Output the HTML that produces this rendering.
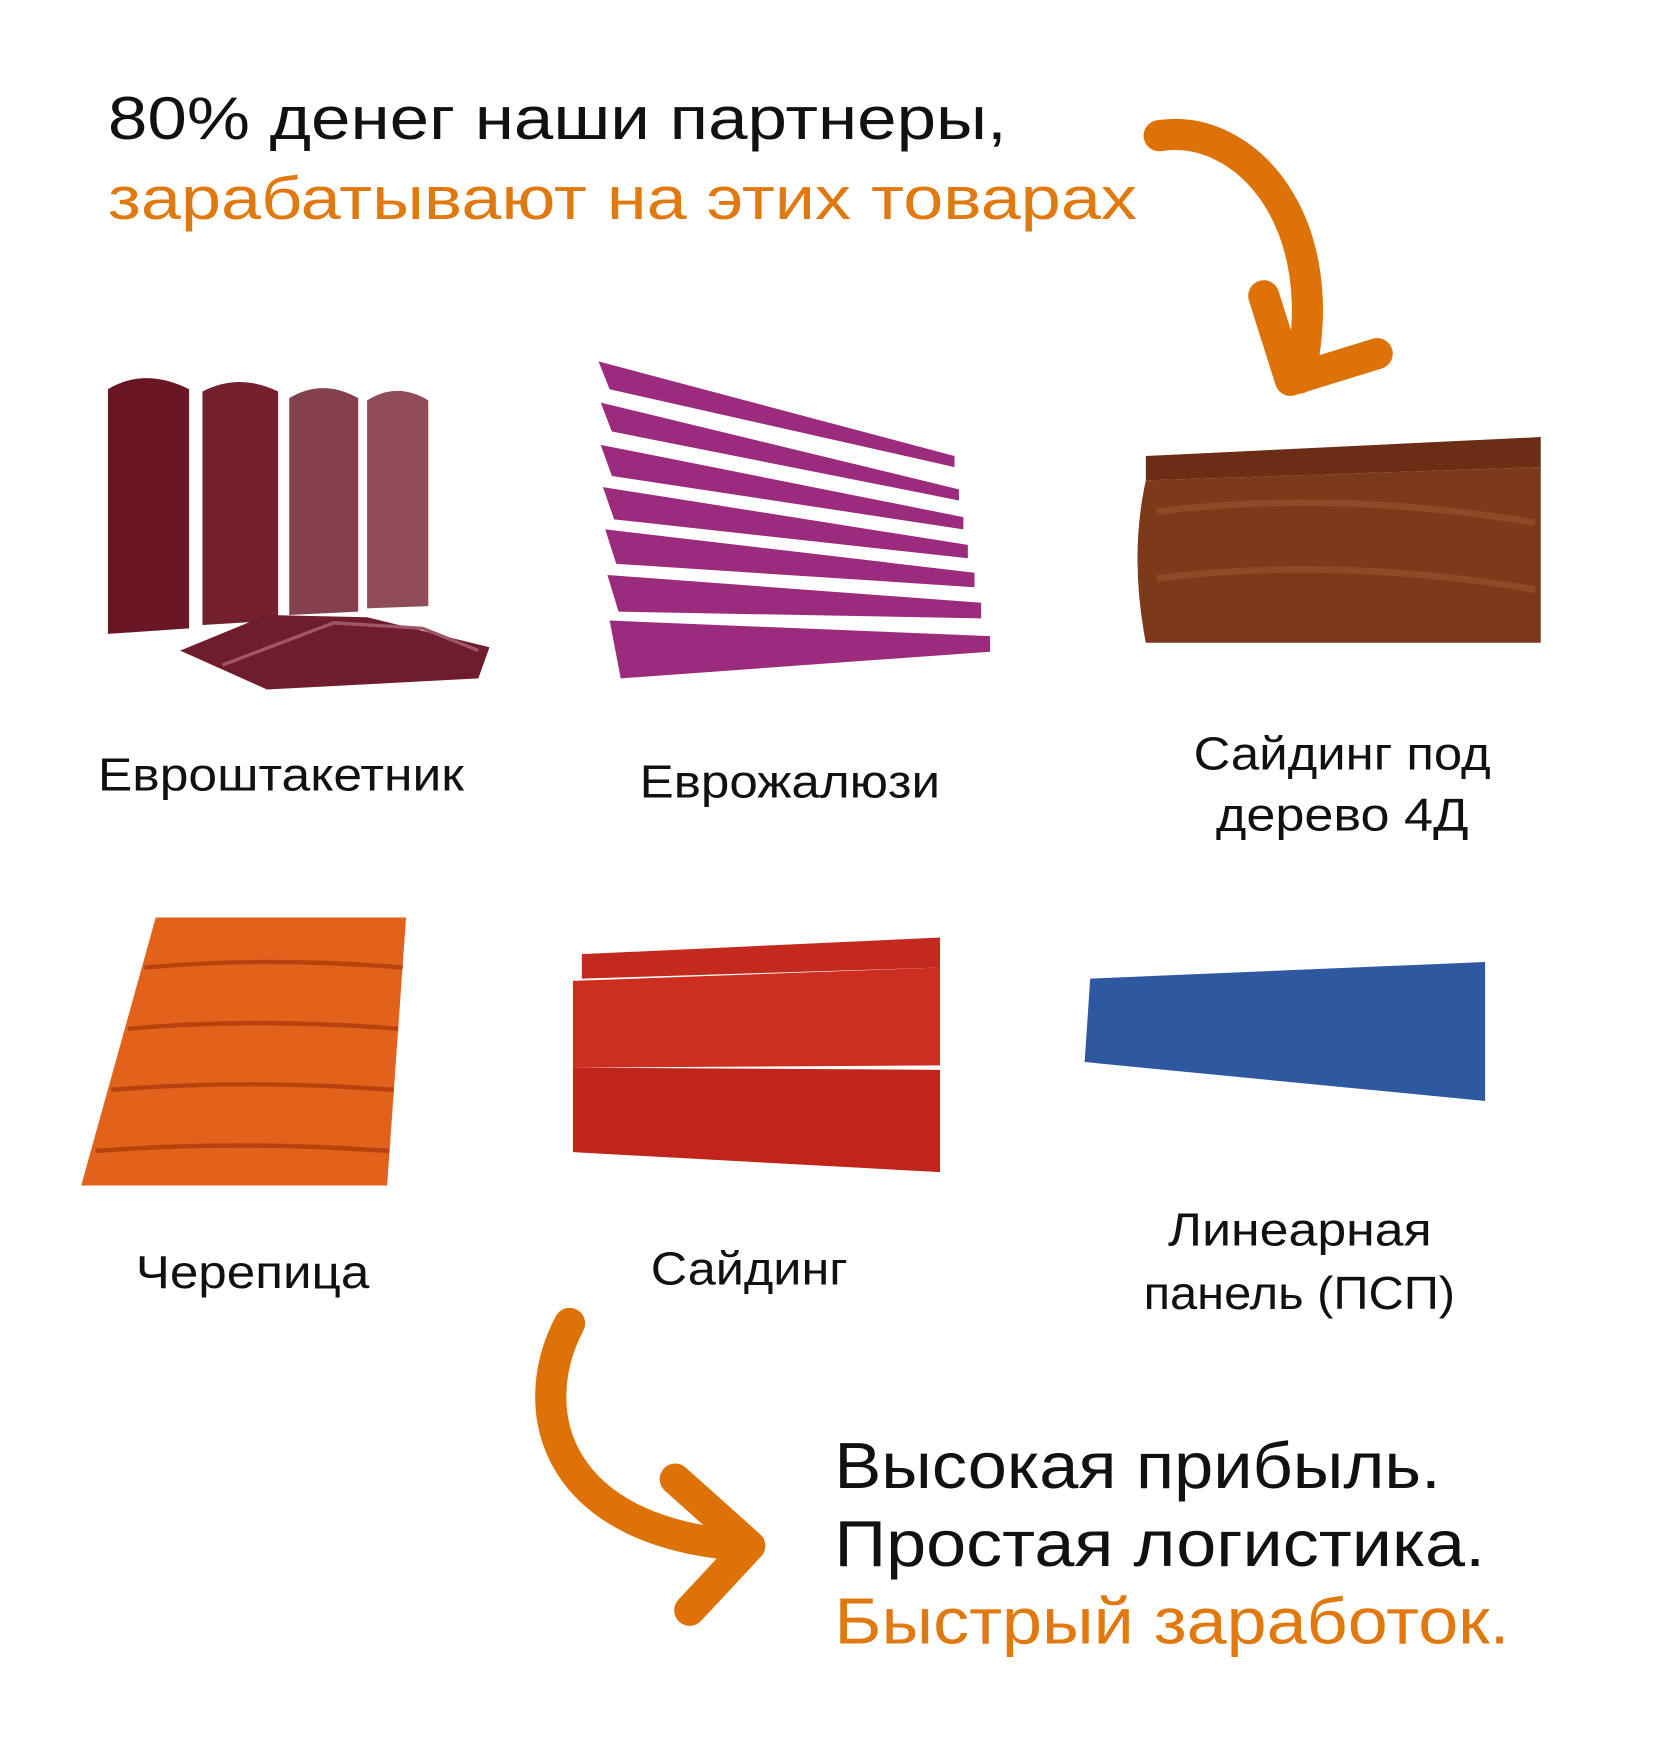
<!DOCTYPE html>
<html><head><meta charset="utf-8"><style>
html,body{margin:0;padding:0;background:#fff;}
svg{display:block;}
text{font-family:"Liberation Sans",sans-serif;}
</style></head><body>
<svg width="1662" height="1746" viewBox="0 0 1494 1570" preserveAspectRatio="none" xmlns="http://www.w3.org/2000/svg">
<rect width="1494" height="1570" fill="#fff"/>
<text x="97" y="125" font-size="54" fill="#111" textLength="808" lengthAdjust="spacingAndGlyphs">80% денег наши партнеры,</text>
<text x="97" y="197" font-size="54" fill="#e07a10" textLength="925" lengthAdjust="spacingAndGlyphs">зарабатывают на этих товарах</text>

<!-- top arrow -->
<g fill="none" stroke="#dd7208" stroke-width="28" stroke-linecap="round" stroke-linejoin="round">
<path d="M1042 122 C1120 110 1200 200 1168 340"/>
<path d="M1136 266 L1160 342 L1238 318"/>
</g>

<!-- Евроштакетник -->
<g>
<path d="M97 350 Q130 330 170 350 L170 565 L97 570 Z" fill="#6a1624"/>
<path d="M182 352 Q215 335 250 352 L250 558 L182 562 Z" fill="#74202f"/>
<path d="M260 358 Q290 340 322 358 L322 550 L260 553 Z" fill="#84404d"/>
<path d="M330 360 Q357 343 385 360 L385 545 L330 547 Z" fill="#8e4d58"/>
<path d="M162 585 L240 553 L330 555 L440 582 L430 610 L240 620 Z" fill="#6f1c2c"/>
<path d="M200 598 L300 560 L380 565 L430 585" stroke="#a0566a" stroke-width="3" fill="none"/>
</g>
<text x="88" y="711" font-size="42" fill="#111" textLength="329" lengthAdjust="spacingAndGlyphs">Евроштакетник</text>

<!-- Еврожалюзи -->
<g fill="#9a2b7d">
<path d="M538 325 L858 410 L858 420 L548 350 Z"/>
<path d="M540 362 L862 440 L862 450 L550 388 Z"/>
<path d="M540 400 L866 465 L866 476 L550 428 Z"/>
<path d="M542 438 L870 490 L870 502 L552 467 Z"/>
<path d="M544 476 L876 515 L876 528 L554 507 Z"/>
<path d="M546 517 L882 542 L882 556 L556 550 Z"/>
<path d="M548 558 L890 572 L890 586 L558 610 Z"/>
</g>
<text x="575" y="717" font-size="42" fill="#111" textLength="270" lengthAdjust="spacingAndGlyphs">Еврожалюзи</text>

<!-- wood siding -->
<path d="M1030 410 L1385 393 L1385 420 L1030 432 Z" fill="#6b2e14"/>
<path d="M1030 432 L1385 420 L1385 578 L1030 578 Q1015 500 1030 432 Z" fill="#7c3a1a"/>
<path d="M1040 460 Q1200 440 1380 470 M1040 520 Q1200 500 1380 530" stroke="#9a5530" stroke-width="6" fill="none" opacity="0.6"/>
<text x="1073" y="692" font-size="42" fill="#111" textLength="267" lengthAdjust="spacingAndGlyphs">Сайдинг под</text>
<text x="1093" y="747" font-size="42" fill="#111" textLength="227" lengthAdjust="spacingAndGlyphs">дерево 4Д</text>

<!-- Черепица -->
<path d="M140 825 L365 825 L348 1066 L73 1066 Z" fill="#e2621c"/>
<g stroke="#b8420e" stroke-width="4" fill="none">
<path d="M130 870 Q240 860 362 870"/><path d="M115 925 Q230 915 358 925"/>
<path d="M100 980 Q220 970 354 980"/><path d="M86 1035 Q210 1025 350 1035"/>
</g>
<text x="122" y="1158" font-size="42" fill="#111" textLength="210" lengthAdjust="spacingAndGlyphs">Черепица</text>

<!-- Сайдинг -->
<path d="M523 858 L845 843 L845 870 L523 880 Z" fill="#c22a1e"/>
<path d="M515 882 L845 870 L845 958 L515 960 Z" fill="#cc2e20"/>
<path d="M515 960 L845 962 L845 1054 L515 1036 Z" fill="#c0241a"/>
<text x="585" y="1155" font-size="42" fill="#111" textLength="177" lengthAdjust="spacingAndGlyphs">Сайдинг</text>

<!-- Линеарная панель -->
<path d="M980 880 L1335 865 L1335 990 L975 955 Z" fill="#2e58a0"/>
<text x="1050" y="1120" font-size="42" fill="#111" textLength="237" lengthAdjust="spacingAndGlyphs">Линеарная</text>
<text x="1028" y="1177" font-size="42" fill="#111" textLength="280" lengthAdjust="spacingAndGlyphs">панель (ПСП)</text>

<!-- bottom arrow -->
<g fill="none" stroke="#dd7208" stroke-width="28" stroke-linecap="round" stroke-linejoin="round">
<path d="M512 1190 C470 1270 500 1380 672 1390"/>
<path d="M607 1330 L674 1390 L620 1448"/>
</g>

<text x="750" y="1338" font-size="58" fill="#111" textLength="545" lengthAdjust="spacingAndGlyphs">Высокая прибыль.</text>
<text x="750" y="1408" font-size="58" fill="#111" textLength="585" lengthAdjust="spacingAndGlyphs">Простая логистика.</text>
<text x="750" y="1478" font-size="58" fill="#e07a10" textLength="607" lengthAdjust="spacingAndGlyphs">Быстрый заработок.</text>
</svg>
</body></html>
